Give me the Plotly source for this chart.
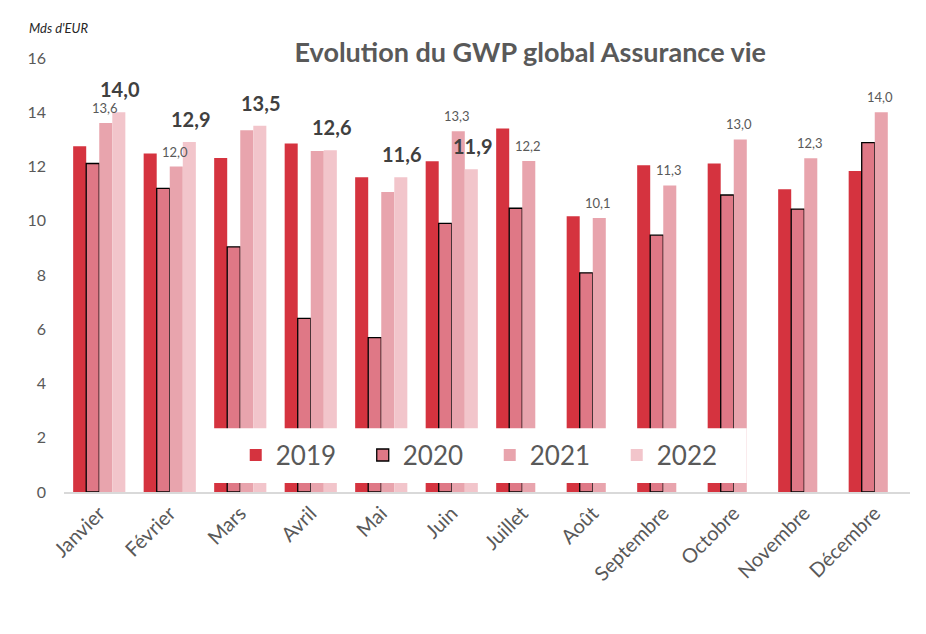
import plotly.graph_objects as go

months = ["Janvier", "Février", "Mars", "Avril", "Mai", "Juin", "Juillet",
          "Août", "Septembre", "Octobre", "Novembre", "Décembre"]
gwp_2019 = [12.75, 12.48, 12.31, 12.85, 11.60, 12.19, 13.40, 10.17, 12.05, 12.11, 11.16, 11.83]
gwp_2020 = [12.11, 11.19, 9.04, 6.40, 5.69, 9.90, 10.46, 8.08, 9.47, 10.95, 10.43, 12.88]
gwp_2021 = [13.6, 12.0, 13.34, 12.57, 11.06, 13.3, 12.2, 10.1, 11.3, 13.0, 12.3, 14.0]
gwp_2022 = [14.0, 12.9, 13.5, 12.6, 11.6, 11.9, None, None, None, None, None, None]
show_2021_label = [True, True, False, False, False, True, True, True, True, True, True, True]

def fmt(v):
    return f"{v:.1f}".replace(".", ",")

FONT = "Lato, 'Open Sans', sans-serif"
GREY = "#595959"

# layout geometry (page has an 8px body margin)
W, H = 926, 634
ML, MR, MT, MB = 56, 24, 50, 150
BARGAP = 0.26
plot_w = W - ML - MR
slot_w = plot_w / len(months) * (1 - BARGAP) / 4

fig = go.Figure()
fig.add_trace(go.Bar(name="2019", x=months, y=gwp_2019,
                     marker=dict(color="#d5333f", line=dict(width=0))))
fig.add_trace(go.Bar(name="2020", x=months, y=gwp_2020,
                     marker=dict(color="#df7886", line=dict(color="#000000", width=1.3))))
fig.add_trace(go.Bar(name="2021", x=months, y=gwp_2021,
                     marker=dict(color="#e8a4ad", line=dict(width=0))))
fig.add_trace(go.Bar(name="2022", x=months, y=gwp_2022,
                     marker=dict(color="#f2c5cb", line=dict(width=0))))

annotations = []
for m, v, s in zip(months, gwp_2021, show_2021_label):
    if s and v is not None:
        annotations.append(dict(x=m, y=v, text=fmt(v), showarrow=False,
                                xref="x", yref="y", xanchor="center", yanchor="bottom",
                                xshift=0.5 * slot_w - 1, yshift=5,
                                font=dict(size=13, color=GREY, family=FONT)))
for m, v in zip(months, gwp_2022):
    if v is not None:
        annotations.append(dict(x=m, y=v, text="<b>" + fmt(v) + "</b>", showarrow=False,
                                xref="x", yref="y", xanchor="center", yanchor="bottom",
                                xshift=1.5 * slot_w + 1, yshift=9,
                                font=dict(size=20, color="#404040", family=FONT)))
annotations.append(dict(text="<i>Mds d'EUR</i>", xref="paper", yref="paper",
                        x=-0.044, y=1.07, xanchor="left", yanchor="middle",
                        showarrow=False, font=dict(size=13, color="#262626", family=FONT)))

fig.update_layout(
    width=W, height=H,
    paper_bgcolor="white", plot_bgcolor="white",
    margin=dict(l=ML, r=MR, t=MT, b=MB, autoexpand=False),
    barmode="group", bargap=BARGAP, bargroupgap=0,
    font=dict(family=FONT, color=GREY),
    title=dict(text="<b>Evolution du GWP global Assurance vie</b>",
               x=0.564, xref="container", xanchor="center",
               y=0.93, yref="container", yanchor="middle",
               font=dict(size=27, color=GREY, family=FONT)),
    showlegend=True,
    legend=dict(orientation="h", x=0.203, xanchor="left", y=0.085, yanchor="middle",
                bgcolor="rgba(0,0,0,0)", font=dict(size=26, color=GREY, family=FONT),
                entrywidth=82, entrywidthmode="pixels", traceorder="normal"),
    shapes=[dict(type="rect", xref="paper", yref="paper",
                 x0=0.176, x1=0.807, y0=0.021, y1=0.147,
                 fillcolor="white", line=dict(width=0), layer="above")],
    annotations=annotations,
)
fig.update_yaxes(range=[0, 16], dtick=2, showgrid=False, zeroline=False,
                 showline=False, ticks="", tickfont=dict(size=16, color=GREY),
                 ticklabelstandoff=17, automargin=False)
fig.update_xaxes(showline=True, linecolor="#d9d9d9", linewidth=1.5, ticks="",
                 tickangle=-45, tickfont=dict(size=20, color=GREY), automargin=False)

fig.write_html("out.html")
